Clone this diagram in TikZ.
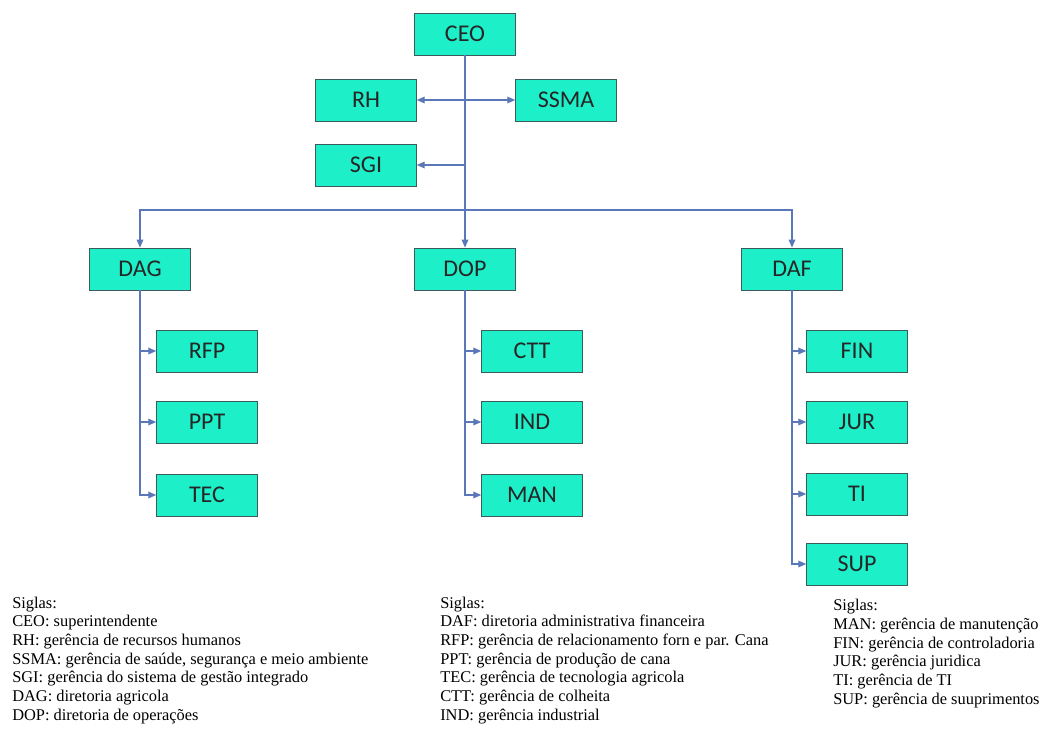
\documentclass[tikz,border=0pt]{standalone}
\usepackage{fontspec}
\setmainfont{Liberation Serif}
\newfontfamily\boxfont{Carlito}
\usetikzlibrary{arrows.meta,positioning}
\definecolor{boxfill}{HTML}{1DEFC9}
\definecolor{boxline}{HTML}{3D5B5B}
\definecolor{linkblue}{HTML}{5A78B8}

\begin{document}
\begin{tikzpicture}[x=0.75pt,y=-0.75pt,
  unit/.style={draw=boxline,fill=boxfill,line width=0.6pt,minimum width=75.5pt,minimum height=31.5pt,inner sep=0pt,font=\boxfont\fontsize{18}{20}\selectfont,text=black!85},
  link/.style={draw=linkblue,line width=0.9pt},
  tip/.style={-{Triangle[length=6pt,width=5pt]}},
  legend/.style={anchor=base west,align=left,inner sep=0pt,font=\fontsize{12.3}{14}\selectfont}]
  \useasboundingbox (0,0) rectangle (1046,734);
  \node[unit] (CEO) at (465,34) {CEO};
  \node[unit] (RH) at (366,100) {RH};
  \node[unit] (SSMA) at (566,100) {SSMA};
  \node[unit] (SGI) at (366,165) {SGI};
  \foreach \name/\x in {DAG/140, DOP/465, DAF/792}
    \node[unit] (\name) at (\x,269) {\name};
  \foreach \name/\y in {RFP/351, PPT/422, TEC/495}
    \node[unit] (\name) at (207,\y) {\name};
  \foreach \name/\y in {CTT/351, IND/422, MAN/495}
    \node[unit] (\name) at (532,\y) {\name};
  \foreach \name/\y in {FIN/351, JUR/422, TI/494, SUP/564}
    \node[unit] (\name) at (857,\y) {\name};
  \coordinate (bus) at (465,210);
  \draw[link] (CEO.south) -- (bus);
  \draw[link,tip] (bus) -| (DAG.north);
  \draw[link,tip] (bus) -| (DAF.north);
  \draw[link,tip] (bus) -- (DOP.north);
  \draw[link,tip] (CEO.south) |- (SGI.east);
  \draw[link,{Triangle[length=6pt,width=5pt]}-{Triangle[length=6pt,width=5pt]}] (RH.east) -- (SSMA.west);
  \foreach \name in {RFP,PPT,TEC}
    \draw[link,tip] (DAG.south) |- (\name.west);
  \foreach \name in {CTT,IND,MAN}
    \draw[link,tip] (DOP.south) |- (\name.west);
  \foreach \name in {FIN,JUR,TI,SUP}
    \draw[link,tip] (DAF.south) |- (\name.west);
  \node[legend] (siglas1) at (12,720) {Siglas:\\CEO: superintendente\\RH: gerência de recursos humanos\\SSMA: gerência de saúde, segurança e meio ambiente\\SGI: gerência do sistema de gestão integrado\\DAG: diretoria agricola\\DOP: diretoria de operações};
  \node[legend] (siglas2) at (440,720) {Siglas:\\DAF: diretoria administrativa financeira\\RFP: gerência de relacionamento forn e par. Cana\\PPT: gerência de produção de cana\\TEC: gerência de tecnologia agricola\\CTT: gerência de colheita\\IND: gerência industrial};
  \node[legend] (siglas3) at (833,704) {Siglas:\\MAN: gerência de manutenção\\FIN: gerência de controladoria\\JUR: gerência juridica\\TI: gerência de TI\\SUP: gerência de suuprimentos};
\end{tikzpicture}
\end{document}
